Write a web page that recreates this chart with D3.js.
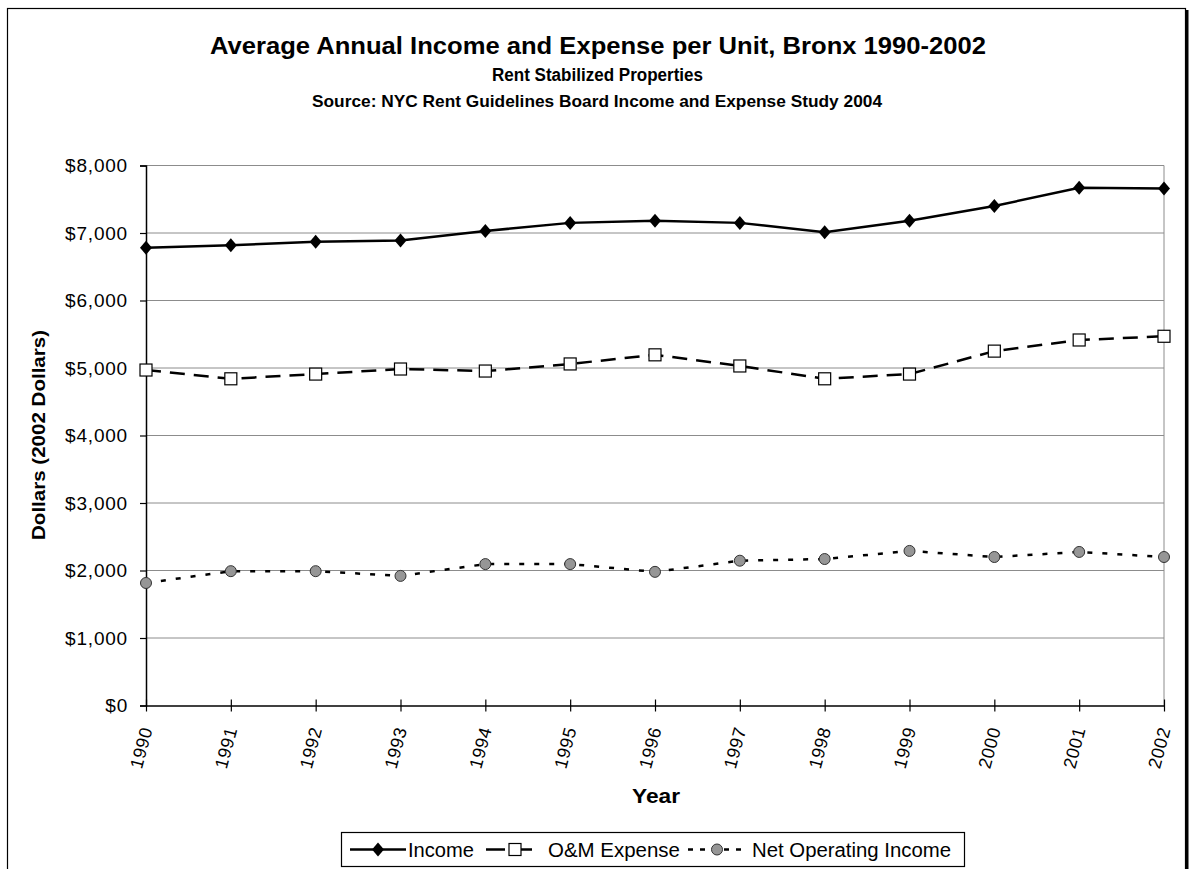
<!DOCTYPE html>
<html><head><meta charset="utf-8">
<script src="https://cdn.jsdelivr.net/npm/d3@7"></script>
<style>body{margin:0;background:#fff;} svg{display:block;} text{font-family:"Liberation Sans",Arial,sans-serif;}</style>
</head><body>
<svg id="c" width="1190" height="869"></svg>
<script>
const years = ["1990","1991","1992","1993","1994","1995","1996","1997","1998","1999","2000","2001","2002"];
const income = [6780,6820,6870,6890,7030,7150,7180,7150,7010,7180,7400,7670,7660];
const omExpense = [4970,4840,4910,4985,4955,5060,5195,5030,4840,4910,5250,5415,5470];
const noi = [1815,1990,1990,1920,2095,2095,1980,2145,2170,2290,2200,2275,2200];
const yTicks = [0,1000,2000,3000,4000,5000,6000,7000,8000];
const seriesNames = ["Income","O&M Expense","Net Operating Income"];

const svg = d3.select("#c");
const L=146, R=1164, T=165.5, B=705.5;
const x = d3.scalePoint().domain(years).range([L,R]);
const y = d3.scaleLinear().domain([0,8000]).range([B,T]);

// outer frame
svg.append("rect").attr("x",7.5).attr("y",8.5).attr("width",1178).attr("height",880)
  .attr("fill","none").attr("stroke","#000").attr("stroke-width",1.2);
svg.append("line").attr("x1",1187).attr("x2",1187).attr("y1",10).attr("y2",869)
  .attr("stroke","#000").attr("stroke-width",3);

// titles
svg.append("text").attr("x",598).attr("y",54).attr("text-anchor","middle")
  .attr("font-size",23).attr("font-weight","bold").attr("textLength",776).attr("lengthAdjust","spacingAndGlyphs")
  .text("Average Annual Income and Expense per Unit, Bronx 1990-2002");
svg.append("text").attr("x",597.5).attr("y",81).attr("text-anchor","middle")
  .attr("font-size",18).attr("font-weight","bold").attr("textLength",211).attr("lengthAdjust","spacingAndGlyphs")
  .text("Rent Stabilized Properties");
svg.append("text").attr("x",597).attr("y",106.5).attr("text-anchor","middle")
  .attr("font-size",17).attr("font-weight","bold").attr("textLength",570).attr("lengthAdjust","spacingAndGlyphs")
  .text("Source: NYC Rent Guidelines Board Income and Expense Study 2004");

// gridlines
svg.append("g").selectAll("line").data(yTicks.filter(d=>d>0)).join("line")
  .attr("x1",L).attr("x2",R).attr("y1",d=>y(d)).attr("y2",d=>y(d))
  .attr("stroke","#8c8c8c").attr("stroke-width",1);
svg.append("line").attr("x1",R).attr("x2",R).attr("y1",T).attr("y2",B)
  .attr("stroke","#8c8c8c").attr("stroke-width",1);

// y axis
const yAxis = d3.axisLeft(y).tickValues(yTicks).tickSize(6).tickPadding(12)
  .tickFormat(d=>"$"+d3.format(",")(d));
const gy = svg.append("g").attr("transform",`translate(${L},0)`).call(yAxis);
gy.select(".domain").attr("stroke","#000").attr("stroke-width",1.5);
gy.selectAll(".tick line").attr("stroke","#000").attr("stroke-width",1.2);
gy.selectAll(".tick text").attr("font-size",19).attr("fill","#000").attr("letter-spacing","0.8px")
  .attr("font-family","Liberation Sans, Arial, sans-serif");

// x axis
const xAxis = d3.axisBottom(x).tickSize(6).tickSizeOuter(0).tickPadding(10);
const gx = svg.append("g").attr("transform",`translate(0,${B})`).call(xAxis);
gx.select(".domain").attr("stroke","#000").attr("stroke-width",1.5);
gx.selectAll(".tick line").attr("y1",-6).attr("y2",6).attr("stroke","#000").attr("stroke-width",1.2);
gx.selectAll(".tick text").attr("font-size",18).attr("fill","#000").attr("letter-spacing","0.5px")
  .attr("font-family","Liberation Sans, Arial, sans-serif")
  .attr("text-anchor","end").attr("dy","0.35em")
  .attr("transform","translate(0,22) rotate(-75)").attr("y",0).attr("x",0);

// axis titles
svg.append("text").attr("transform","translate(45,435) rotate(-90)").attr("text-anchor","middle")
  .attr("font-size",19).attr("font-weight","bold").attr("textLength",210).attr("lengthAdjust","spacingAndGlyphs")
  .text("Dollars (2002 Dollars)");
svg.append("text").attr("x",656).attr("y",803).attr("text-anchor","middle")
  .attr("font-size",20).attr("font-weight","bold").attr("textLength",48).attr("lengthAdjust","spacingAndGlyphs")
  .text("Year");

// lines
const line = d3.line().x((d,i)=>x(years[i])).y(d=>y(d));
svg.append("path").datum(income).attr("d",line).attr("fill","none")
  .attr("stroke","#000").attr("stroke-width",2.5);
svg.append("path").datum(omExpense).attr("d",line).attr("fill","none")
  .attr("stroke","#000").attr("stroke-width",2.5).attr("stroke-dasharray","15,9");
svg.append("path").datum(noi).attr("d",line).attr("fill","none")
  .attr("stroke","#000").attr("stroke-width",2.5).attr("stroke-dasharray","5,10");

function drawDiamond(g,cx,cy){ g.append("path").attr("d","M0,-7L6,0L0,7L-6,0Z").attr("transform",`translate(${cx},${cy})`).attr("fill","#000"); }
function drawSquare(g,cx,cy){ g.append("rect").attr("x",cx-6).attr("y",cy-6).attr("width",12).attr("height",12).attr("fill","#fff").attr("stroke","#000").attr("stroke-width",1.2); }
function drawCircle(g,cx,cy){ g.append("circle").attr("cx",cx).attr("cy",cy).attr("r",5.5).attr("fill","#969696").attr("stroke","#333").attr("stroke-width",1); }

const mk = svg.append("g");
income.forEach((v,i)=>drawDiamond(mk,x(years[i]),y(v)));
omExpense.forEach((v,i)=>drawSquare(mk,x(years[i]),y(v)));
noi.forEach((v,i)=>drawCircle(mk,x(years[i]),y(v)));

// legend
const lg = svg.append("g");
lg.append("rect").attr("x",341.5).attr("y",832.5).attr("width",623).attr("height",34)
  .attr("fill","#fff").attr("stroke","#000").attr("stroke-width",1.2);
const ly = 849.5;
lg.append("line").attr("x1",350).attr("x2",406).attr("y1",ly).attr("y2",ly).attr("stroke","#000").attr("stroke-width",2.5);
drawDiamond(lg,378,ly);
lg.append("text").attr("x",408).attr("y",ly).attr("dy","0.36em").attr("font-size",20)
  .attr("textLength",66).attr("lengthAdjust","spacingAndGlyphs").text(seriesNames[0]);
lg.append("line").attr("x1",486).attr("x2",540).attr("y1",ly).attr("y2",ly).attr("stroke","#000").attr("stroke-width",2.5).attr("stroke-dasharray","19,8");
drawSquare(lg,515,ly);
lg.append("text").attr("x",548).attr("y",ly).attr("dy","0.36em").attr("font-size",20)
  .attr("textLength",132).attr("lengthAdjust","spacingAndGlyphs").text(seriesNames[1]);
lg.append("line").attr("x1",688).attr("x2",742).attr("y1",ly).attr("y2",ly).attr("stroke","#000").attr("stroke-width",2.5).attr("stroke-dasharray","5,7");
drawCircle(lg,717,ly);
lg.append("text").attr("x",752).attr("y",ly).attr("dy","0.36em").attr("font-size",20)
  .attr("textLength",199).attr("lengthAdjust","spacingAndGlyphs").text(seriesNames[2]);
</script>
</body></html>
